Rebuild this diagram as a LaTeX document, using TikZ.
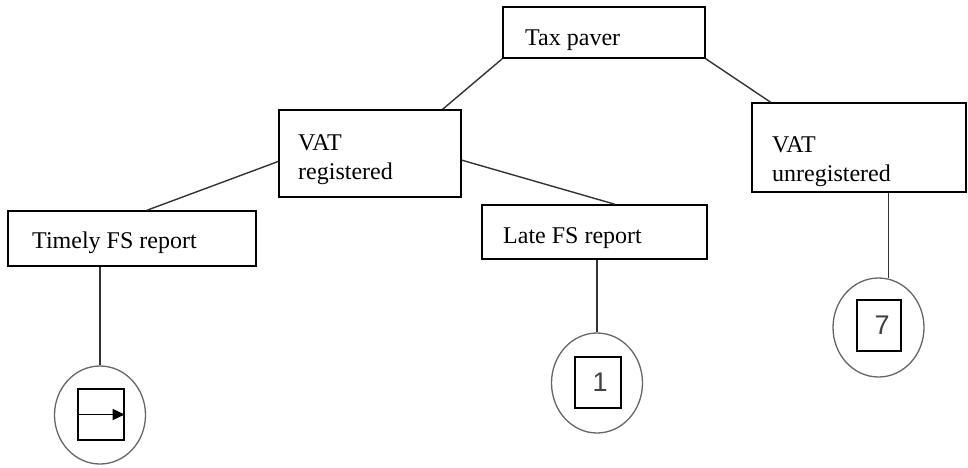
\documentclass[tikz,border=0pt]{standalone}
\usepackage{fontspec}
\setmainfont{Liberation Serif}
\newfontfamily\digitfont{Liberation Sans}
\usetikzlibrary{shapes.geometric,calc,arrows.meta}
\begin{document}
\begin{tikzpicture}[x=1pt,y=-1pt,
  box/.style={draw=black,line width=1.5pt,rectangle,inner sep=0pt},
  lbl/.style={anchor=base west,inner sep=0pt,font=\fontsize{24}{29}\selectfont},
  conn/.style={draw=black!80,line width=1.4pt},
  endc/.style={draw=black!60,line width=1.3pt,ellipse,inner sep=0pt},
  sq/.style={draw=black,line width=1.4pt,rectangle,inner sep=0pt,font=\digitfont\fontsize{27}{27}\selectfont\color{black!75}}]
\useasboundingbox[fill=white] (0,0) rectangle (968,467);
% boxes
\node[box,minimum width=202pt,minimum height=51pt] (tp) at (604,32.5) {};
\node[box,minimum width=182pt,minimum height=87pt] (vr) at (370,153.5) {};
\node[box,minimum width=214pt,minimum height=89pt] (vu) at (859,147.5) {};
\node[box,minimum width=225pt,minimum height=54pt] (lf) at (594.5,232) {};
\node[box,minimum width=248pt,minimum height=55pt] (tf) at (132,238.5) {};
% labels
\node[lbl] (tpt) at (525,45) {Tax paver};
\node[lbl] (vrt1) at (298,150) {VAT};
\node[lbl] (vrt2) at (298,179) {registered};
\node[lbl] (vut1) at (772,152) {VAT};
\node[lbl] (vut2) at (772,181) {unregistered};
\node[lbl] (lft) at (503,243) {Late FS report};
\node[lbl] (tft) at (32,248) {Timely FS report};
% end circles
\node[endc,minimum width=91pt,minimum height=98pt] (c1) at (100,415) {};
\node[endc,minimum width=91pt,minimum height=100pt] (c2) at (597,383) {};
\node[endc,minimum width=91pt,minimum height=99pt] (c3) at (878.5,327.5) {};
% inner squares
\node[sq,minimum width=46pt,minimum height=51pt] (s1) at (101,414.5) {};
\node[sq,minimum width=46pt,minimum height=51pt] (s2) at (598,382.5) {\hspace*{4pt}1};
\node[sq,minimum width=44pt,minimum height=51pt] (s3) at (879,325.5) {\hspace*{6pt}7};
\draw[line width=1.3pt,-{Triangle[length=12pt,width=11pt]}] (s1.west) -- (s1.east);
% connectors
\coordinate (vrtop) at ($(vr.north west)!0.896!(vr.north east)$);
\coordinate (vutop) at ($(vu.north west)!0.09!(vu.north east)$);
\coordinate (vrleft) at ($(vr.north west)!0.59!(vr.south west)$);
\coordinate (vrright) at ($(vr.north east)!0.575!(vr.south east)$);
\coordinate (tftop) at ($(tf.north west)!0.56!(tf.north east)$);
\coordinate (lftop) at ($(lf.north west)!0.59!(lf.north east)$);
\coordinate (tfbot) at ($(tf.south west)!0.371!(tf.south east)$);
\coordinate (lfbot) at ($(lf.south west)!0.511!(lf.south east)$);
\coordinate (vubot) at ($(vu.south west)!0.636!(vu.south east)$);
\draw[conn] (tp.south west) -- (vrtop);
\draw[conn] (tp.south east) -- (vutop);
\draw[conn] (vrleft) -- (tftop);
\draw[conn] (vrright) -- (lftop);
\draw[conn] (tfbot) -- (tfbot |- c1.north);
\draw[conn] (lfbot) -- (lfbot |- c2.north);
\draw[conn] (vubot) -- ($(vubot |- c3.north)+(0,1)$);
\end{tikzpicture}
\end{document}
